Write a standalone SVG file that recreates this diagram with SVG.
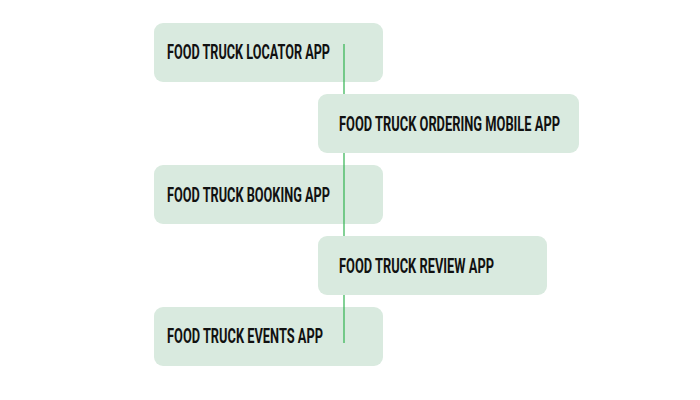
<svg xmlns="http://www.w3.org/2000/svg" width="700" height="400" viewBox="0 0 700 400">
<style>
.box{fill:#d9eadf}
.lbl{font-family:"Roboto","DejaVu Sans Condensed","Liberation Sans",sans-serif;font-weight:bold;font-size:19.5px;fill:#111}
.conn{stroke:#2fb24f;stroke-width:1.2;fill:none}
</style>
<rect width="700" height="400" fill="#fff"/>
<g id="n1"><rect class="box" x="154" y="23" width="229" height="59" rx="9"/><text class="lbl" x="167" y="59" textLength="163" lengthAdjust="spacingAndGlyphs">FOOD TRUCK LOCATOR APP</text></g>
<g id="n3"><rect class="box" x="154" y="165" width="229" height="59" rx="9"/><text class="lbl" x="167" y="202" textLength="163" lengthAdjust="spacingAndGlyphs">FOOD TRUCK BOOKING APP</text></g>
<g id="n5"><rect class="box" x="154" y="307" width="229" height="59" rx="9"/><text class="lbl" x="167" y="343" textLength="156" lengthAdjust="spacingAndGlyphs">FOOD TRUCK EVENTS APP</text></g>
<g id="connectors">
<line class="conn" x1="344" y1="44" x2="344" y2="94"/>
<line class="conn" x1="344" y1="153" x2="344" y2="236"/>
<line class="conn" x1="344" y1="295" x2="344" y2="343"/>
</g>
<g id="n2"><rect class="box" x="318" y="94" width="261" height="59" rx="9"/><text class="lbl" x="339" y="131" textLength="221" lengthAdjust="spacingAndGlyphs">FOOD TRUCK ORDERING MOBILE APP</text></g>
<g id="n4"><rect class="box" x="318" y="236" width="229" height="59" rx="9"/><text class="lbl" x="339" y="273" textLength="155" lengthAdjust="spacingAndGlyphs">FOOD TRUCK REVIEW APP</text></g>
</svg>
